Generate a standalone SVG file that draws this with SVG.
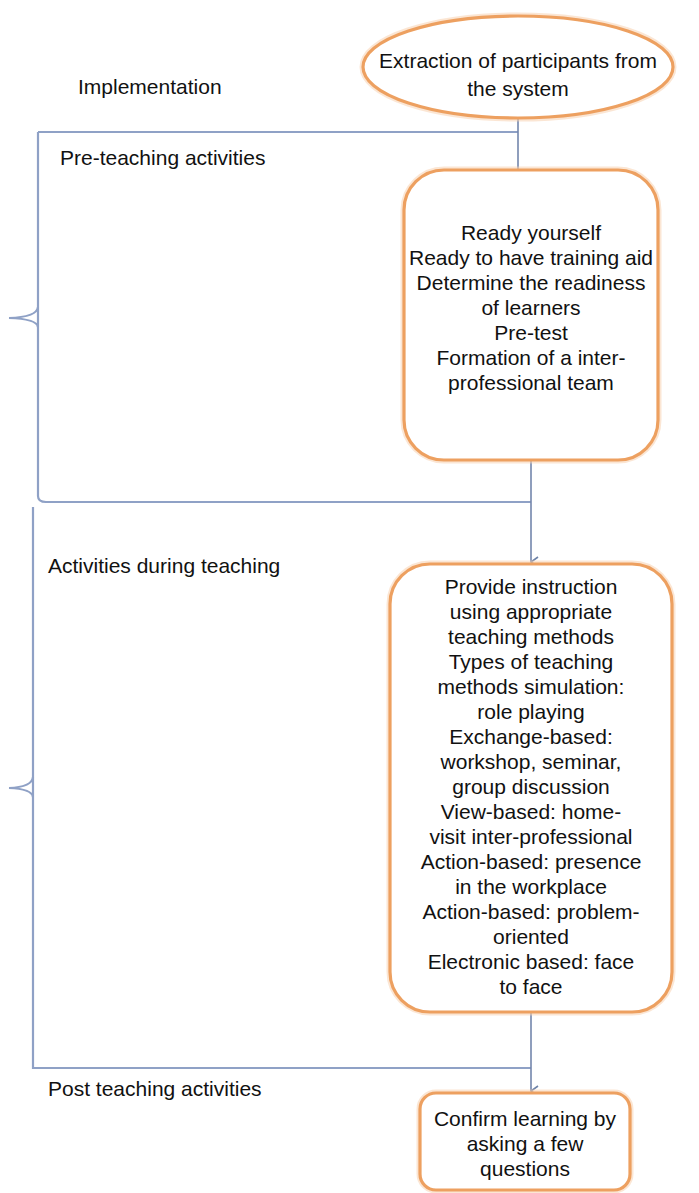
<svg xmlns="http://www.w3.org/2000/svg" width="699" height="1193" viewBox="0 0 699 1193">
<defs>
<style>
text{font-family:"Liberation Sans",Arial,sans-serif;font-size:21px;fill:#111;}
.c{text-anchor:middle;}
.node{fill:#fff;stroke:#EDA060;stroke-width:3.2;}
.glow{fill:none;stroke:#F7D2B0;stroke-width:7;opacity:.55;}
.ln{fill:none;stroke:#7386AC;stroke-width:1.6;}
.br{fill:none;stroke:#8FA1C6;stroke-width:2.2;}
</style>
<marker id="arr" viewBox="0 0 12 12" refX="6" refY="11" markerWidth="12" markerHeight="12" markerUnits="userSpaceOnUse" orient="auto">
<path d="M1,4 L6,11 L11,4" fill="none" stroke="#6E83A8" stroke-width="1.6"/>
</marker>
</defs>
<rect width="699" height="1193" fill="#fff"/>
<g id="labels">
<text x="78" y="94">Implementation</text>
<text x="60" y="165">Pre-teaching activities</text>
<text x="48" y="573">Activities during teaching</text>
<text x="48" y="1096">Post teaching activities</text>
</g>
<g id="connectors">
<path class="br" d="M38,132 L518,132"/>
<path class="br" d="M38,132 L38,496 Q38,502 46,502 L531,502"/>
<path class="br" d="M38,307 Q37,317 9,318 M38,327 Q37,319 9,318"/>
<path class="ln" d="M518,118 L518,170"/>
<path class="br" d="M33,507 L33,1068 L531,1068"/>
<path class="br" d="M33,777 Q32,787 9,788 M33,797 Q32,789 9,788"/>
<path class="ln" d="M531,460 L531,562" marker-end="url(#arr)"/>
<path class="ln" d="M531,1012 L531,1091" marker-end="url(#arr)"/>
</g>
<g id="n1">
<ellipse class="glow" cx="518" cy="67" rx="155" ry="51"/>
<ellipse class="node" cx="518" cy="67" rx="155" ry="51"/>
<text class="c" x="518" y="68">Extraction of participants from</text>
<text class="c" x="518" y="96">the system</text>
</g>
<g id="n2">
<rect class="glow" x="404" y="170" width="254" height="290" rx="40"/>
<rect class="node" x="404" y="170" width="254" height="290" rx="40"/>
<text class="c" x="531" y="240">Ready yourself</text>
<text class="c" x="531" y="265">Ready to have training aid</text>
<text class="c" x="531" y="290">Determine the readiness</text>
<text class="c" x="531" y="315">of learners</text>
<text class="c" x="531" y="340">Pre-test</text>
<text class="c" x="531" y="365">Formation of a inter-</text>
<text class="c" x="531" y="390">professional team</text>
</g>
<g id="n3">
<rect class="glow" x="390" y="564" width="282" height="448" rx="40"/>
<rect class="node" x="390" y="564" width="282" height="448" rx="40"/>
<text class="c" x="531" y="594">Provide instruction</text>
<text class="c" x="531" y="619">using appropriate</text>
<text class="c" x="531" y="644">teaching methods</text>
<text class="c" x="531" y="669">Types of teaching</text>
<text class="c" x="531" y="694">methods simulation:</text>
<text class="c" x="531" y="719">role playing</text>
<text class="c" x="531" y="744">Exchange-based:</text>
<text class="c" x="531" y="769">workshop, seminar,</text>
<text class="c" x="531" y="794">group discussion</text>
<text class="c" x="531" y="819">View-based: home-</text>
<text class="c" x="531" y="844">visit inter-professional</text>
<text class="c" x="531" y="869">Action-based: presence</text>
<text class="c" x="531" y="894">in the workplace</text>
<text class="c" x="531" y="919">Action-based: problem-</text>
<text class="c" x="531" y="944">oriented</text>
<text class="c" x="531" y="969">Electronic based: face</text>
<text class="c" x="531" y="994">to face</text>
</g>
<g id="n4">
<rect class="glow" x="420" y="1093" width="210" height="97" rx="16"/>
<rect class="node" x="420" y="1093" width="210" height="97" rx="16"/>
<text class="c" x="525" y="1126">Confirm learning by</text>
<text class="c" x="525" y="1151">asking a few</text>
<text class="c" x="525" y="1176">questions</text>
</g>
</svg>
